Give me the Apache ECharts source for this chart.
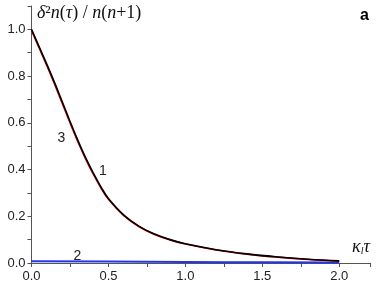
<!DOCTYPE html>
<html><head><meta charset="utf-8">
<script src="https://cdn.jsdelivr.net/npm/echarts@6/dist/echarts.min.js"></script>
<style>html,body{margin:0;padding:0;background:#fff}#c{width:382px;height:286px}</style>
</head><body><div id="c"></div>
<script>
const xTicks = [0, 0.5, 1.0, 1.5, 2.0];
const yTicks = [0, 0.2, 0.4, 0.6, 0.8, 1.0];
const xs = [0, 0.05, 0.1, 0.15, 0.2, 0.25, 0.3, 0.35, 0.4, 0.45, 0.5, 0.6, 0.7, 0.8, 0.9, 1.0, 1.2, 1.4, 1.6, 1.8, 2.0];
const curve1 = [1.0, 0.925, 0.85, 0.772, 0.69, 0.607, 0.527, 0.453, 0.387, 0.327, 0.276, 0.205, 0.157, 0.124, 0.1, 0.082, 0.057, 0.039, 0.026, 0.016, 0.009];
const curve3 = [0.995, 0.92, 0.844, 0.765, 0.683, 0.6, 0.521, 0.448, 0.382, 0.323, 0.273, 0.203, 0.155, 0.122, 0.099, 0.081, 0.056, 0.038, 0.025, 0.015, 0.008];
const xs2 = [0, 0.5, 1.0, 1.5, 2.0];
const curve2 = [0.008, 0.006, 0.004, 0.003, 0.002];
const labels = [["3", 0.195, 0.535], ["1", 0.464, 0.392], ["2", 0.299, 0.031]];

const chart = echarts.init(document.getElementById('c'));
const pair = (a, b) => a.map((v, i) => [v, b[i]]);
const axisCol = '#555';
const serif = 'Liberation Serif';
chart.setOption({
  animation: false,
  grid: {left: 31.5, right: 12, top: 6, bottom: 23},
  xAxis: {type: 'value', min: 0, max: 2.2, interval: 0.5,
    axisLine: {show: true, lineStyle: {color: axisCol, width: 1}},
    axisTick: {show: true, length: 4, lineStyle: {color: axisCol}},
    minorTick: {show: true, splitNumber: 2, length: 4, lineStyle: {color: axisCol}},
    splitLine: {show: false},
    axisLabel: {color: '#222', fontFamily: 'Liberation Sans', fontSize: 13, margin: 7,
      formatter: v => xTicks.some(t => Math.abs(t - v) < 1e-9) ? v.toFixed(1) : ''}},
  yAxis: {type: 'value', min: 0, max: 1.1, interval: 0.2,
    axisLine: {show: true, lineStyle: {color: axisCol, width: 1}},
    axisTick: {show: true, length: 4, lineStyle: {color: axisCol}},
    minorTick: {show: true, splitNumber: 2, length: 4, lineStyle: {color: axisCol}},
    splitLine: {show: false},
    axisLabel: {color: '#222', fontFamily: 'Liberation Sans', fontSize: 13, margin: 6,
      formatter: v => yTicks.some(t => Math.abs(t - v) < 1e-9) ? v.toFixed(1) : ''}},
  series: [
    {type: 'line', data: pair(xs2, curve2), showSymbol: false, smooth: true,
      lineStyle: {color: '#2233ee', width: 2},
      markPoint: {symbol: 'circle', symbolSize: 0,
        label: {show: true, formatter: p => p.name, color: '#222', fontFamily: 'Liberation Sans', fontSize: 14},
        data: labels.map(l => ({name: l[0], coord: [l[1], l[2]]}))}},
    {type: 'line', data: pair(xs, curve3), showSymbol: false, smooth: 0.4,
      lineStyle: {color: '#e00000', width: 1.6}},
    {type: 'line', data: pair(xs, curve1), showSymbol: false, smooth: 0.4,
      lineStyle: {color: '#000', width: 1.6}}
  ],
  graphic: [
    {type: 'text', left: 37, top: 4, style: {
      text: '{i|δ}{u|²}{i|n}{u|(}{i|τ}{u|) / }{i|n}{u|(}{i|n}{u|+1)}',
      rich: {
        i: {fontFamily: serif, fontStyle: 'italic', fontSize: 18, fill: '#111'},
        u: {fontFamily: serif, fontSize: 18, fill: '#111'}
      }}},
    {type: 'text', left: 360, top: 8, style: {text: 'a', fontFamily: 'Liberation Sans', fontWeight: 'bold', fontSize: 16, fill: '#000'}},
    {type: 'text', left: 352, top: 238, style: {
      text: '{i|κ}{s|l}{i|τ}',
      rich: {
        i: {fontFamily: serif, fontStyle: 'italic', fontSize: 18, fill: '#111'},
        s: {fontFamily: serif, fontStyle: 'italic', fontSize: 10, fill: '#111', padding: [8, 0, 0, 0]}
      }}}
  ]
});
</script></body></html>
